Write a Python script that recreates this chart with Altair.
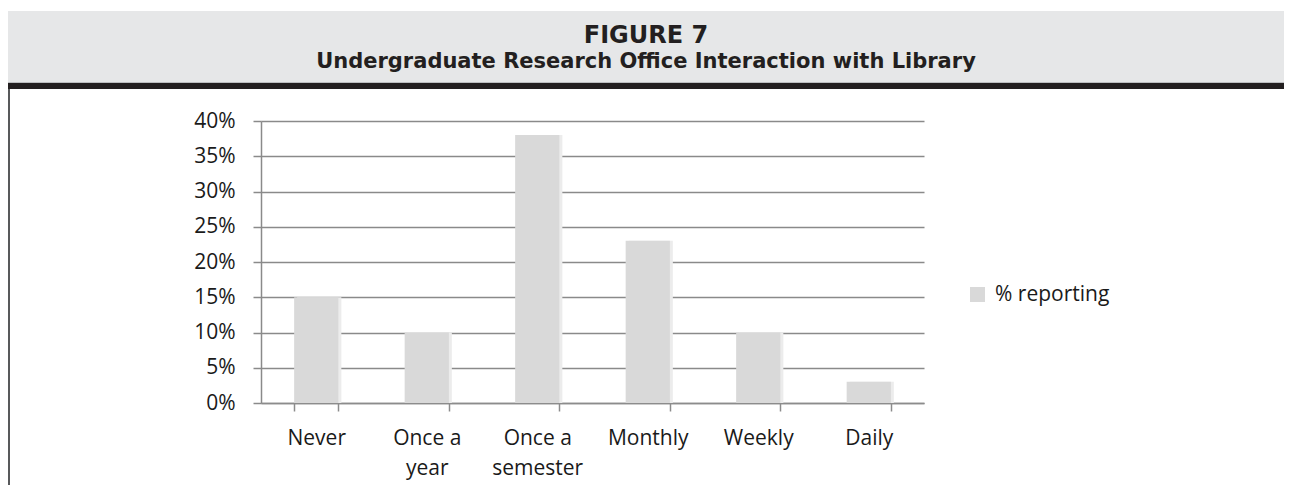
import altair as alt
import pandas as pd

categories = ["Never", "Once a year", "Once a semester", "Monthly", "Weekly", "Daily"]
values = [0.15, 0.10, 0.38, 0.23, 0.10, 0.03]
series_name = "% reporting"
y_ticks = [0, 0.05, 0.10, 0.15, 0.20, 0.25, 0.30, 0.35, 0.40]
fig_label = "FIGURE 7"
fig_title = "Undergraduate Research Office Interaction with Library"

df = pd.DataFrame({"category": categories, "value": values, "series": [series_name] * len(categories)})

W, H = 663, 282
PAD_L, PAD_T, PAD_R, PAD_B = 253, 113, 360, 82

one = alt.Data(values=[{"k": 1}])

band = alt.Chart(one).mark_rect(color="#e6e7e8").encode(
    x=alt.value(-PAD_L), x2=alt.value(W + PAD_R), y=alt.value(-110), y2=alt.value(-38)
)
thin = alt.Chart(one).mark_rect(color="#bcbec0").encode(
    x=alt.value(-PAD_L), x2=alt.value(W + PAD_R), y=alt.value(-39), y2=alt.value(-38)
)
thick = alt.Chart(one).mark_rect(color="#231f20").encode(
    x=alt.value(-PAD_L), x2=alt.value(W + PAD_R), y=alt.value(-38), y2=alt.value(-32)
)
border = alt.Chart(one).mark_rect(color="#58595b").encode(
    x=alt.value(-PAD_L), x2=alt.value(-PAD_L + 2), y=alt.value(-32), y2=alt.value(H + PAD_B)
)
t1 = alt.Chart(one).mark_text(
    text=fig_label, font="DejaVu Sans", fontWeight="bold", fontSize=24, color="#231f20",
    align="center", baseline="middle"
).encode(x=alt.value(385), y=alt.value(-85))
t2 = alt.Chart(one).mark_text(
    text=fig_title, font="DejaVu Sans", fontWeight="bold", fontSize=21, color="#231f20",
    align="center", baseline="middle"
).encode(x=alt.value(385), y=alt.value(-59))

x_enc = alt.X(
    "category:N", sort=categories, title=None,
    scale=alt.Scale(paddingInner=0.6, paddingOuter=0.3),
    axis=alt.Axis(
        labelAngle=0, tickBand="extent", tickSize=8, tickColor="#8c8c8c", tickWidth=1.5,
        domainColor="#8c8c8c", domainWidth=1.5, labelPadding=16, labelLineHeight=30,
        labelExpr="indexof(datum.label, 'Once a ') == 0 ? ['Once a', substring(datum.label, 7)] : datum.label",
    ),
)
y_enc = alt.Y(
    "value:Q", title=None,
    scale=alt.Scale(domain=[0, 0.4], nice=False),
    axis=alt.Axis(
        values=y_ticks, format=".0%", grid=True, gridColor="#8a8a8a", gridWidth=1.5,
        tickSize=8, tickColor="#8a8a8a", tickWidth=1.5, domainColor="#8a8a8a",
        domainWidth=1.5, labelPadding=18,
    ),
)

shadow = alt.Chart(df).mark_bar(color="#ececec", xOffset=3).encode(x=x_enc, y=y_enc)

bars = alt.Chart(df).mark_bar().encode(
    x=x_enc,
    y=y_enc,
    color=alt.Color(
        "series:N", title=None,
        scale=alt.Scale(domain=[series_name], range=["#d9d9d9"]),
        legend=alt.Legend(
            orient="none", legendX=706, legendY=163, symbolType="square", symbolSize=225,
            symbolStrokeWidth=0, labelFontSize=21, labelFont="Open Sans", labelColor="#1a1a1a",
            labelOffset=7,
        ),
    ),
)

chart = alt.layer(band, thin, thick, border, t1, t2, shadow, bars).properties(
    width=W, height=H,
    padding={"left": PAD_L, "top": PAD_T, "right": PAD_R, "bottom": PAD_B},
    autosize=alt.AutoSizeParams(type="none"),
    background="white",
).configure_view(stroke=None).configure_axis(
    labelFont="Open Sans", labelFontSize=21, labelColor="#1a1a1a"
)

chart.save("out.html", embed_options={"renderer": "svg", "actions": False})
